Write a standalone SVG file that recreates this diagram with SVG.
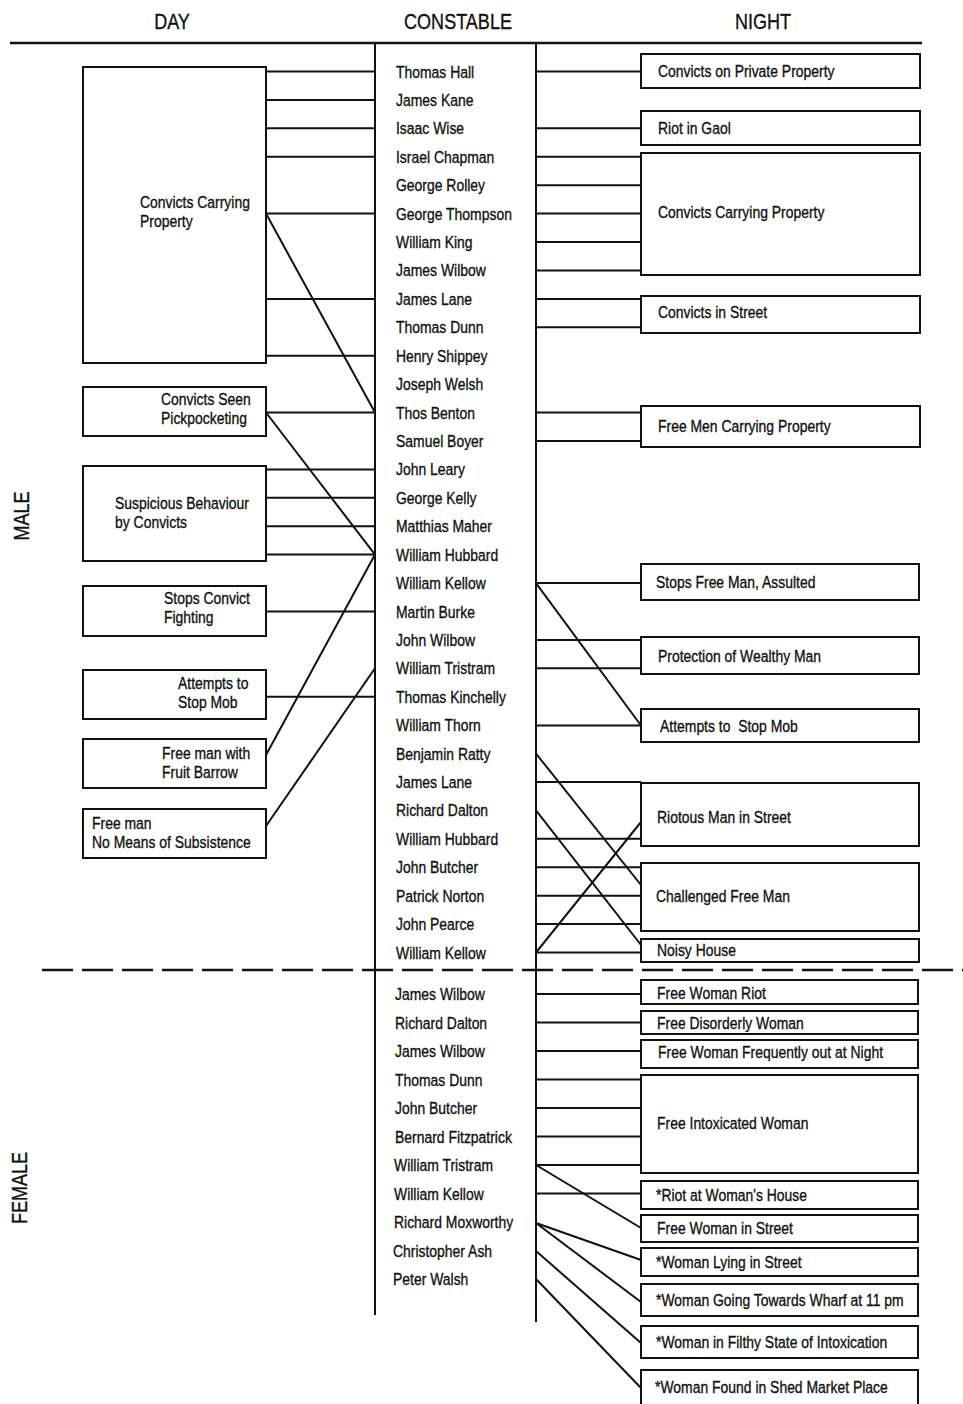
<svg xmlns="http://www.w3.org/2000/svg" width="963" height="1404" viewBox="0 0 963 1404">
  <style>
    text { font-family: "Liberation Sans", Arial, sans-serif; font-size: 17px; fill: #111; stroke: #111; stroke-width: 0.35; }
    .hd { font-size: 22px; text-anchor: middle; }
    .side { font-size: 22px; text-anchor: middle; }
    .box { fill: #fff; stroke: #111; stroke-width: 2; }
    .ln { stroke: #111; stroke-width: 2; fill: none; }
    .rule { stroke: #111; stroke-width: 2.5; fill: none; }
    .dash { stroke: #111; stroke-width: 2.5; fill: none; stroke-dasharray: 31 9; }
  </style>
  <rect width="963" height="1404" fill="#fff"/>

  <!-- column headings and frame (text is condensed horizontally with scale) -->
  <g id="headings">
    <text class="hd" transform="translate(172 29) scale(.82 1)">DAY</text>
    <text class="hd" transform="translate(458 29) scale(.82 1)">CONSTABLE</text>
    <text class="hd" transform="translate(763 29) scale(.82 1)">NIGHT</text>
    <text class="side" transform="translate(29 516) rotate(-90) scale(.82 1)">MALE</text>
    <text class="side" transform="translate(27 1188) rotate(-90) scale(.82 1)">FEMALE</text>
  </g>
  <g id="frame">
    <line class="rule" x1="10" y1="43" x2="922" y2="43"/>
    <line class="ln" x1="375" y1="43" x2="375" y2="1315"/>
    <line class="ln" x1="536" y1="43" x2="536" y2="1322"/>
    <line class="dash" x1="42" y1="970" x2="963" y2="970"/>
  </g>

  <!-- connectors -->
  <g id="connectors">
    <!-- day, male -->
    <line class="ln" x1="266" y1="71.5" x2="375" y2="71.5"/>
    <line class="ln" x1="266" y1="99.9" x2="375" y2="99.9"/>
    <line class="ln" x1="266" y1="128.3" x2="375" y2="128.3"/>
    <line class="ln" x1="266" y1="156.8" x2="375" y2="156.8"/>
    <line class="ln" x1="266" y1="213.6" x2="375" y2="213.6"/>
    <line class="ln" x1="266" y1="298.9" x2="375" y2="298.9"/>
    <line class="ln" x1="266" y1="355.7" x2="375" y2="355.7"/>
    <line class="ln" x1="266" y1="213.6" x2="375" y2="412.5"/>
    <line class="ln" x1="266" y1="412.5" x2="375" y2="412.5"/>
    <line class="ln" x1="266" y1="412.5" x2="375" y2="554.6"/>
    <line class="ln" x1="266" y1="469.4" x2="375" y2="469.4"/>
    <line class="ln" x1="266" y1="497.8" x2="375" y2="497.8"/>
    <line class="ln" x1="266" y1="526.2" x2="375" y2="526.2"/>
    <line class="ln" x1="266" y1="554.6" x2="375" y2="554.6"/>
    <line class="ln" x1="266" y1="611.5" x2="375" y2="611.5"/>
    <line class="ln" x1="266" y1="696.7" x2="375" y2="696.7"/>
    <line class="ln" x1="375" y1="554.6" x2="266" y2="755"/>
    <line class="ln" x1="375" y1="668.3" x2="266" y2="826"/>
    <!-- night, male -->
    <line class="ln" x1="536" y1="71.5" x2="641" y2="71.5"/>
    <line class="ln" x1="536" y1="128.3" x2="641" y2="128.3"/>
    <line class="ln" x1="536" y1="156.8" x2="641" y2="156.8"/>
    <line class="ln" x1="536" y1="185.2" x2="641" y2="185.2"/>
    <line class="ln" x1="536" y1="213.6" x2="641" y2="213.6"/>
    <line class="ln" x1="536" y1="242" x2="641" y2="242"/>
    <line class="ln" x1="536" y1="270.4" x2="641" y2="270.4"/>
    <line class="ln" x1="536" y1="298.9" x2="641" y2="298.9"/>
    <line class="ln" x1="536" y1="327.3" x2="641" y2="327.3"/>
    <line class="ln" x1="536" y1="412.5" x2="641" y2="412.5"/>
    <line class="ln" x1="536" y1="441" x2="641" y2="441"/>
    <line class="ln" x1="536" y1="583.1" x2="641" y2="583.1"/>
    <line class="ln" x1="536" y1="583.1" x2="641" y2="725.5"/>
    <line class="ln" x1="536" y1="639.9" x2="641" y2="639.9"/>
    <line class="ln" x1="536" y1="668.3" x2="641" y2="668.3"/>
    <line class="ln" x1="536" y1="725.5" x2="641" y2="725.5"/>
    <line class="ln" x1="536" y1="782" x2="641" y2="782"/>
    <line class="ln" x1="536" y1="838.8" x2="641" y2="838.8"/>
    <line class="ln" x1="536" y1="753.6" x2="641" y2="885"/>
    <line class="ln" x1="536" y1="810.4" x2="641" y2="945"/>
    <line class="ln" x1="536" y1="952.5" x2="641" y2="822"/>
    <line class="ln" x1="536" y1="867.3" x2="641" y2="867.3"/>
    <line class="ln" x1="536" y1="895.7" x2="641" y2="895.7"/>
    <line class="ln" x1="536" y1="924.1" x2="641" y2="924.1"/>
    <line class="ln" x1="536" y1="952.5" x2="641" y2="952.5"/>
    <!-- night, female -->
    <line class="ln" x1="536" y1="994" x2="641" y2="994"/>
    <line class="ln" x1="536" y1="1022.5" x2="641" y2="1022.5"/>
    <line class="ln" x1="536" y1="1051" x2="641" y2="1051"/>
    <line class="ln" x1="536" y1="1079.5" x2="641" y2="1079.5"/>
    <line class="ln" x1="536" y1="1108" x2="641" y2="1108"/>
    <line class="ln" x1="536" y1="1136.5" x2="641" y2="1136.5"/>
    <line class="ln" x1="536" y1="1165" x2="641" y2="1165"/>
    <line class="ln" x1="536" y1="1193.5" x2="641" y2="1193.5"/>
    <line class="ln" x1="536" y1="1165" x2="641" y2="1228"/>
    <line class="ln" x1="536" y1="1223" x2="641" y2="1260"/>
    <line class="ln" x1="536" y1="1223" x2="641" y2="1302"/>
    <line class="ln" x1="536" y1="1251" x2="641" y2="1343"/>
    <line class="ln" x1="536" y1="1279" x2="641" y2="1388"/>
  </g>

  <!-- day incidents -->
  <g id="day-convicts-carrying"><rect class="box" x="83" y="67" width="183" height="296"/><text transform="translate(140 208) scale(.82 1)">Convicts Carrying</text><text transform="translate(140 227) scale(.82 1)">Property</text></g>
  <g id="day-pickpocketing"><rect class="box" x="83" y="387" width="183" height="49"/><text transform="translate(161 405) scale(.82 1)">Convicts Seen</text><text transform="translate(161 424) scale(.82 1)">Pickpocketing</text></g>
  <g id="day-suspicious"><rect class="box" x="83" y="466" width="183" height="95"/><text transform="translate(115 509) scale(.82 1)">Suspicious Behaviour</text><text transform="translate(115 528) scale(.82 1)">by Convicts</text></g>
  <g id="day-fighting"><rect class="box" x="83" y="586" width="183" height="50"/><text transform="translate(164 604) scale(.82 1)">Stops Convict</text><text transform="translate(164 623) scale(.82 1)">Fighting</text></g>
  <g id="day-mob"><rect class="box" x="83" y="670" width="183" height="49"/><text transform="translate(178 689) scale(.82 1)">Attempts to</text><text transform="translate(178 708) scale(.82 1)">Stop Mob</text></g>
  <g id="day-fruit-barrow"><rect class="box" x="83" y="739" width="183" height="49"/><text transform="translate(162 759) scale(.82 1)">Free man with</text><text transform="translate(162 778) scale(.82 1)">Fruit Barrow</text></g>
  <g id="day-subsistence"><rect class="box" x="83" y="809" width="183" height="49"/><text transform="translate(92 829) scale(.82 1)">Free man</text><text transform="translate(92 848) scale(.82 1)">No Means of Subsistence</text></g>

  <!-- constables, male -->
  <g id="c-m00"><text transform="translate(396 77.5) scale(.82 1)">Thomas Hall</text></g>
  <g id="c-m01"><text transform="translate(396 105.9) scale(.82 1)">James Kane</text></g>
  <g id="c-m02"><text transform="translate(396 134.3) scale(.82 1)">Isaac Wise</text></g>
  <g id="c-m03"><text transform="translate(396 162.8) scale(.82 1)">Israel Chapman</text></g>
  <g id="c-m04"><text transform="translate(396 191.2) scale(.82 1)">George Rolley</text></g>
  <g id="c-m05"><text transform="translate(396 219.6) scale(.82 1)">George Thompson</text></g>
  <g id="c-m06"><text transform="translate(396 248) scale(.82 1)">William King</text></g>
  <g id="c-m07"><text transform="translate(396 276.4) scale(.82 1)">James Wilbow</text></g>
  <g id="c-m08"><text transform="translate(396 304.9) scale(.82 1)">James Lane</text></g>
  <g id="c-m09"><text transform="translate(396 333.3) scale(.82 1)">Thomas Dunn</text></g>
  <g id="c-m10"><text transform="translate(396 361.7) scale(.82 1)">Henry Shippey</text></g>
  <g id="c-m11"><text transform="translate(396 390.1) scale(.82 1)">Joseph Welsh</text></g>
  <g id="c-m12"><text transform="translate(396 418.5) scale(.82 1)">Thos Benton</text></g>
  <g id="c-m13"><text transform="translate(396 447) scale(.82 1)">Samuel Boyer</text></g>
  <g id="c-m14"><text transform="translate(396 475.4) scale(.82 1)">John Leary</text></g>
  <g id="c-m15"><text transform="translate(396 503.8) scale(.82 1)">George Kelly</text></g>
  <g id="c-m16"><text transform="translate(396 532.2) scale(.82 1)">Matthias Maher</text></g>
  <g id="c-m17"><text transform="translate(396 560.6) scale(.82 1)">William Hubbard</text></g>
  <g id="c-m18"><text transform="translate(396 589.1) scale(.82 1)">William Kellow</text></g>
  <g id="c-m19"><text transform="translate(396 617.5) scale(.82 1)">Martin Burke</text></g>
  <g id="c-m20"><text transform="translate(396 645.9) scale(.82 1)">John Wilbow</text></g>
  <g id="c-m21"><text transform="translate(396 674.3) scale(.82 1)">William Tristram</text></g>
  <g id="c-m22"><text transform="translate(396 702.7) scale(.82 1)">Thomas Kinchelly</text></g>
  <g id="c-m23"><text transform="translate(396 731.2) scale(.82 1)">William Thorn</text></g>
  <g id="c-m24"><text transform="translate(396 759.6) scale(.82 1)">Benjamin Ratty</text></g>
  <g id="c-m25"><text transform="translate(396 788) scale(.82 1)">James Lane</text></g>
  <g id="c-m26"><text transform="translate(396 816.4) scale(.82 1)">Richard Dalton</text></g>
  <g id="c-m27"><text transform="translate(396 844.8) scale(.82 1)">William Hubbard</text></g>
  <g id="c-m28"><text transform="translate(396 873.3) scale(.82 1)">John Butcher</text></g>
  <g id="c-m29"><text transform="translate(396 901.7) scale(.82 1)">Patrick Norton</text></g>
  <g id="c-m30"><text transform="translate(396 930.1) scale(.82 1)">John Pearce</text></g>
  <g id="c-m31"><text transform="translate(396 958.5) scale(.82 1)">William Kellow</text></g>

  <!-- constables, female -->
  <g id="c-f00"><text transform="translate(395 1000) scale(.82 1)">James Wilbow</text></g>
  <g id="c-f01"><text transform="translate(395 1028.5) scale(.82 1)">Richard Dalton</text></g>
  <g id="c-f02"><text transform="translate(395 1057) scale(.82 1)">James Wilbow</text></g>
  <g id="c-f03"><text transform="translate(395 1085.5) scale(.82 1)">Thomas Dunn</text></g>
  <g id="c-f04"><text transform="translate(395 1114) scale(.82 1)">John Butcher</text></g>
  <g id="c-f05"><text transform="translate(395 1142.5) scale(.82 1)">Bernard Fitzpatrick</text></g>
  <g id="c-f06"><text transform="translate(394 1171) scale(.82 1)">William Tristram</text></g>
  <g id="c-f07"><text transform="translate(394 1199.5) scale(.82 1)">William Kellow</text></g>
  <g id="c-f08"><text transform="translate(394 1228) scale(.82 1)">Richard Moxworthy</text></g>
  <g id="c-f09"><text transform="translate(393 1256.5) scale(.82 1)">Christopher Ash</text></g>
  <g id="c-f10"><text transform="translate(393 1285) scale(.82 1)">Peter Walsh</text></g>

  <!-- night incidents, male -->
  <g id="n-private-property"><rect class="box" x="641" y="54" width="279" height="34"/><text transform="translate(658 77) scale(.82 1)">Convicts on Private Property</text></g>
  <g id="n-riot-gaol"><rect class="box" x="641" y="111" width="279" height="34"/><text transform="translate(658 134) scale(.82 1)">Riot in Gaol</text></g>
  <g id="n-convicts-carrying"><rect class="box" x="641" y="153" width="279" height="122"/><text transform="translate(658 218) scale(.82 1)">Convicts Carrying Property</text></g>
  <g id="n-convicts-street"><rect class="box" x="641" y="296" width="279" height="37"/><text transform="translate(658 318) scale(.82 1)">Convicts in Street</text></g>
  <g id="n-free-men-carrying"><rect class="box" x="641" y="406" width="279" height="41"/><text transform="translate(658 432) scale(.82 1)">Free Men Carrying Property</text></g>
  <g id="n-assulted"><rect class="box" x="641" y="564" width="278" height="36"/><text transform="translate(656 588) scale(.82 1)">Stops Free Man, Assulted</text></g>
  <g id="n-wealthy"><rect class="box" x="641" y="637" width="278" height="37"/><text transform="translate(658 662) scale(.82 1)">Protection of Wealthy Man</text></g>
  <g id="n-mob"><rect class="box" x="641" y="709" width="278" height="33"/><text transform="translate(660 732) scale(.82 1)" xml:space="preserve">Attempts to  Stop Mob</text></g>
  <g id="n-riotous-man"><rect class="box" x="641" y="783" width="278" height="63"/><text transform="translate(657 823) scale(.82 1)">Riotous Man in Street</text></g>
  <g id="n-challenged"><rect class="box" x="641" y="863" width="278" height="68"/><text transform="translate(656 902) scale(.82 1)">Challenged Free Man</text></g>
  <g id="n-noisy-house"><rect class="box" x="641" y="939" width="278" height="23"/><text transform="translate(657 956) scale(.82 1)">Noisy House</text></g>

  <!-- night incidents, female -->
  <g id="n-woman-riot"><rect class="box" x="641" y="980" width="277" height="24"/><text transform="translate(657 999) scale(.82 1)">Free Woman Riot</text></g>
  <g id="n-disorderly"><rect class="box" x="641" y="1011" width="277" height="23"/><text transform="translate(657 1029) scale(.82 1)">Free Disorderly Woman</text></g>
  <g id="n-out-at-night"><rect class="box" x="641" y="1040" width="277" height="28"/><text transform="translate(658 1058) scale(.82 1)">Free Woman Frequently out at Night</text></g>
  <g id="n-intoxicated"><rect class="box" x="641" y="1075" width="277" height="98"/><text transform="translate(657 1129) scale(.82 1)">Free Intoxicated Woman</text></g>
  <g id="n-womans-house"><rect class="box" x="641" y="1181" width="277" height="28"/><text transform="translate(656 1201) scale(.82 1)">*Riot at Woman's House</text></g>
  <g id="n-woman-street"><rect class="box" x="641" y="1215" width="277" height="27"/><text transform="translate(657 1234) scale(.82 1)">Free Woman in Street</text></g>
  <g id="n-lying"><rect class="box" x="641" y="1248" width="277" height="28"/><text transform="translate(656 1268) scale(.82 1)">*Woman Lying in Street</text></g>
  <g id="n-wharf"><rect class="box" x="641" y="1284" width="277" height="32"/><text transform="translate(656 1306) scale(.82 1)">*Woman Going Towards Wharf at 11 pm</text></g>
  <g id="n-filthy"><rect class="box" x="641" y="1326" width="277" height="32"/><text transform="translate(656 1348) scale(.82 1)">*Woman in Filthy State of Intoxication</text></g>
  <g id="n-shed"><rect class="box" x="641" y="1370" width="277" height="40"/><text transform="translate(655 1393) scale(.82 1)">*Woman Found in Shed Market Place</text></g>
</svg>
